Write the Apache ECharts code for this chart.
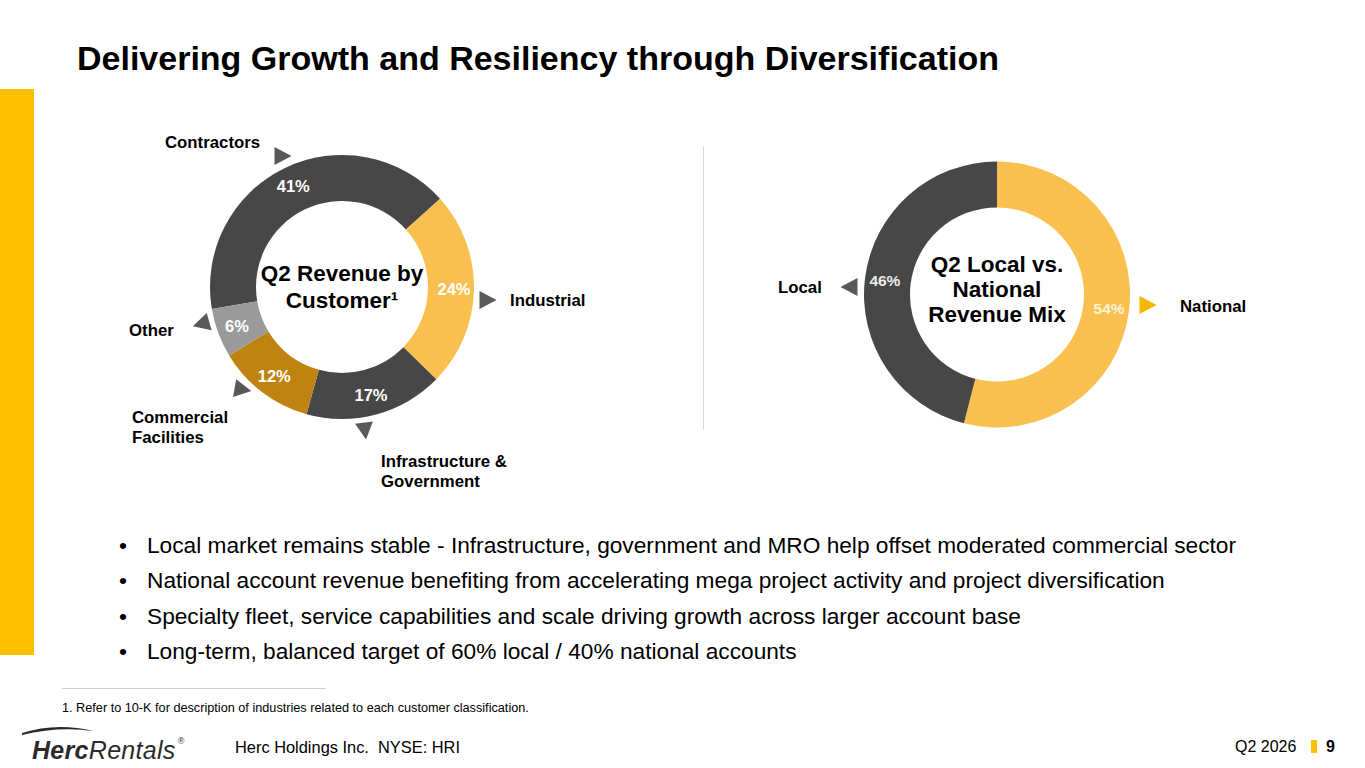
<!DOCTYPE html>
<html>
<head>
<meta charset="utf-8">
<title>Delivering Growth and Resiliency through Diversification</title>
<script src="https://cdn.jsdelivr.net/npm/echarts@6/dist/echarts.min.js"></script>
<style>
  html, body { margin: 0; padding: 0; background: #fff; }
  body { width: 1365px; height: 768px; position: relative; overflow: hidden;
         font-family: "Liberation Sans", Arial, sans-serif; color: #000; }
  #chart { position: absolute; left: 0; top: 0; width: 1365px; height: 768px; }
  .abs { position: absolute; white-space: pre; }
  #title { left: 77px; top: 41px; font-size: 34px; line-height: 34px; font-weight: bold; }
  #sidebar { left: 0; top: 89px; width: 34px; height: 566px; background: #FFC000; }
  #divider { left: 703px; top: 146px; width: 1px; height: 284px; background: #D9D9D9; }
  #bullets { left: 119px; top: 528px; font-size: 22.7px; line-height: 35.3px; }
  #bullets .b { display: inline-block; width: 28px; }
  #rule { left: 62px; top: 688px; width: 264px; height: 1px; background: #D0D0D0; }
  #note { left: 62px; top: 701px; font-size: 12.7px; line-height: 14px; }
  #company { left: 235px; top: 739px; font-size: 16.4px; line-height: 16px; }
  #period { left: 1235px; top: 739px; font-size: 16px; line-height: 16px; }
  #pagebar { left: 1311px; top: 740px; width: 6px; height: 13px; background: #FFC000; }
  #page { left: 1326px; top: 739px; font-size: 16px; line-height: 16px; font-weight: bold; }
  #logo { left: 32px; top: 735px; font-size: 25px; line-height: 25px; color: #2b2b2b; letter-spacing: 0.3px; }
  #logo b { font-style: italic; }
  #logo i { font-weight: normal; }
  #logo sup { font-size: 9px; position: relative; top: -6px; margin-left: 2px; }
  #swoosh { left: 20px; top: 724px; }
</style>
</head>
<body>
<div id="chart"></div>
<div id="title" class="abs">Delivering Growth and Resiliency through Diversification</div>
<div id="sidebar" class="abs"></div>
<div id="divider" class="abs"></div>
<div id="bullets" class="abs"></div>
<div id="rule" class="abs"></div>
<div id="note" class="abs">1. Refer to 10-K for description of industries related to each customer classification.</div>
<svg id="swoosh" class="abs" width="80" height="14"><path d="M2,9 Q36,-2 74,7 Q38,2 2,11 Z" fill="#2b2b2b"/></svg>
<div id="logo" class="abs"><b>Herc</b><i>Rentals</i><sup>®</sup></div>
<div id="company" class="abs">Herc Holdings Inc.  NYSE: HRI</div>
<div id="period" class="abs">Q2 2026</div>
<div id="pagebar" class="abs"></div>
<div id="page" class="abs">9</div>

<script>
// Datos del gráfico
var customerNames = ["Contractors", "Industrial", "Infrastructure &\nGovernment", "Commercial\nFacilities", "Other"];
var customerShare = [41, 24, 17, 12, 6];
var mixNames = ["National", "Local"];
var mixShare = [54, 46];
var bulletPoints = [
    "Local market remains stable - Infrastructure, government and MRO help offset moderated commercial sector",
    "National account revenue benefiting from accelerating mega project activity and project diversification",
    "Specialty fleet, service capabilities and scale driving growth across larger account base",
    "Long-term, balanced target of 60% local / 40% national accounts"
];

// Colores
var darkGray = "#474747";
var gold = "#F9BF4F";
var darkGold = "#BE8311";
var midGray = "#9A9A9A";
var arrowGray = "#595959";
var customerColors = [darkGray, gold, darkGray, darkGold, midGray];
var mixColors = [gold, darkGray];

// Viñetas
document.getElementById("bullets").innerHTML = bulletPoints
    .map(function (t) { return '<div><span class="b">•</span>' + t + "</div>"; })
    .join("");

var fontBase = '"Liberation Sans", Arial, sans-serif';

// Posición de las etiquetas externas y flechas (x, y del texto; flecha: centro y ángulo)
var customerCallouts = [
    { x: 165, y: 132, ax: 283, ay: 156, deg: 0 },
    { x: 510, y: 290, ax: 488, ay: 300, deg: 0 },
    { x: 381, y: 451, ax: 365, ay: 431, deg: 83 },
    { x: 132, y: 407, ax: 243, ay: 389.5, deg: 10 },
    { x: 129, y: 320, ax: 201, ay: 324, deg: 164 }
];
var mixCallouts = [
    { x: 1180, y: 296, ax: 1148, ay: 305, deg: 0, color: "#F5B700" },
    { x: 778, y: 277, ax: 849, ay: 287, deg: 180, color: arrowGray }
];

// Triángulo apuntando en la dirección "deg" (grados, horario desde la derecha)
function triangle(cx, cy, deg, color) {
    var a = deg * Math.PI / 180, c = Math.cos(a), s = Math.sin(a);
    var len = 17, half = 9;
    var tip = [cx + c * len / 2, cy + s * len / 2];
    var bx = cx - c * len / 2, by = cy - s * len / 2;
    return {
        type: "polygon",
        silent: true,
        shape: { points: [tip, [bx - s * half, by + c * half], [bx + s * half, by - c * half]] },
        style: { fill: color }
    };
}

function calloutText(text, pos) {
    return {
        type: "text",
        silent: true,
        style: {
            text: text, x: pos.x, y: pos.y,
            font: "bold 16.8px " + fontBase, fill: "#000",
            lineHeight: 20, textVerticalAlign: "top"
        }
    };
}

var graphics = [];
customerCallouts.forEach(function (p, i) {
    graphics.push(triangle(p.ax, p.ay, p.deg, arrowGray));
    graphics.push(calloutText(customerNames[i], p));
});
mixCallouts.forEach(function (p, i) {
    graphics.push(triangle(p.ax, p.ay, p.deg, p.color));
    graphics.push(calloutText(mixNames[i], p));
});

// Textos del centro
graphics.push({
    type: "text", silent: true,
    style: {
        text: "Q2 Revenue by\nCustomer¹", x: 342, y: 287,
        font: "bold 22.5px " + fontBase, fill: "#000", lineHeight: 27,
        textAlign: "center", textVerticalAlign: "middle"
    }
});
graphics.push({
    type: "text", silent: true,
    style: {
        text: "Q2 Local vs.\nNational\nRevenue Mix", x: 997, y: 289,
        font: "bold 22.5px " + fontBase, fill: "#000", lineHeight: 25,
        textAlign: "center", textVerticalAlign: "middle"
    }
});

var chart = echarts.init(document.getElementById("chart"), null, { renderer: "svg" });

var option = {
    animation: false,
    series: [
        {
            name: "Q2 Revenue by Customer",
            type: "pie",
            center: [342, 287],
            radius: [86, 132],
            startAngle: 189.6,
            silent: true,
            label: {
                show: true,
                position: "inside",
                formatter: "{c}%",
                color: "#fff",
                fontWeight: "bold",
                fontSize: 16.5,
                fontFamily: fontBase
            },
            labelLine: { show: false },
            data: customerShare.map(function (v, i) {
                return { name: customerNames[i], value: v, itemStyle: { color: customerColors[i] } };
            })
        },
        {
            name: "Q2 Local vs. National Revenue Mix",
            type: "pie",
            center: [997, 294.5],
            radius: [87, 133],
            startAngle: 90,
            silent: true,
            label: {
                show: true,
                position: "inside",
                formatter: "{c}%",
                fontWeight: "bold",
                fontSize: 15.5,
                fontFamily: fontBase
            },
            labelLine: { show: false },
            data: mixShare.map(function (v, i) {
                return {
                    name: mixNames[i], value: v,
                    itemStyle: { color: mixColors[i] },
                    label: { color: i === 0 ? "#FFF3D6" : "#EDEDED" }
                };
            })
        }
    ],
    graphic: graphics
};

chart.setOption(option);
</script>
</body>
</html>
